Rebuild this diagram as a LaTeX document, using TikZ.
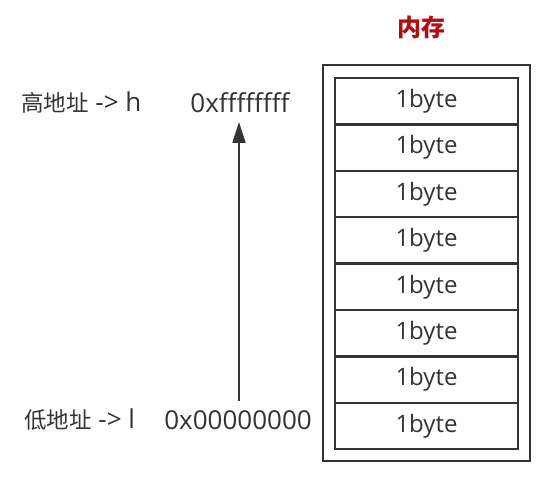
\documentclass[tikz,border=0pt]{standalone}
\usepackage{fontspec}
\setmainfont{Open Sans}
\newfontfamily\cjk{Noto Sans CJK SC}
\usetikzlibrary{arrows.meta}
\definecolor{ink}{HTML}{333333}
\definecolor{titlered}{HTML}{B20E10}
\newcommand{\zh}[1]{{\cjk\fontsize{22.5}{26}\selectfont #1}}
\begin{document}
\begin{tikzpicture}[x=1pt,y=-1pt,
  cell/.style={draw=ink,line width=2.5pt,minimum width=183pt,minimum height=46.4pt,inner sep=0pt,
    font=\fontsize{24}{28}\selectfont,text=ink},
  lbl/.style={inner sep=0pt,font=\fontsize{26}{30}\selectfont,text=ink},
  outerbox/.style={draw=ink,line width=2.5pt,minimum width=207pt,minimum height=396pt,inner sep=0pt}]
\useasboundingbox (0,0) rectangle (550,478);
\node[outerbox] (mem) at (426.5,263) {};
\foreach \i in {0,...,7}{
  \node[cell] (c\i) at (426.5,{78+46.4*(\i+0.5)}) {1byte};
}
\node[inner sep=0pt,font=\cjk\bfseries\fontsize{24}{28}\selectfont,text=titlered] (title) at (421,27) {内存};
\node[lbl,anchor=west] (hl) at (21,103) {\zh{高地址} -> h};
\node[lbl] (hv) at (240,103) {0xffffffff};
\node[lbl,anchor=west] (ll) at (24,420) {\zh{低地址} -> l};
\node[lbl] (lv) at (238,420) {0x00000000};
\coordinate (a0) at (239,401);
\coordinate (a1) at (239,122);
\draw[ink,line width=2.2pt,-{Triangle[length=21pt,width=13pt]}] (a0) -- (a1);
\end{tikzpicture}
\end{document}
